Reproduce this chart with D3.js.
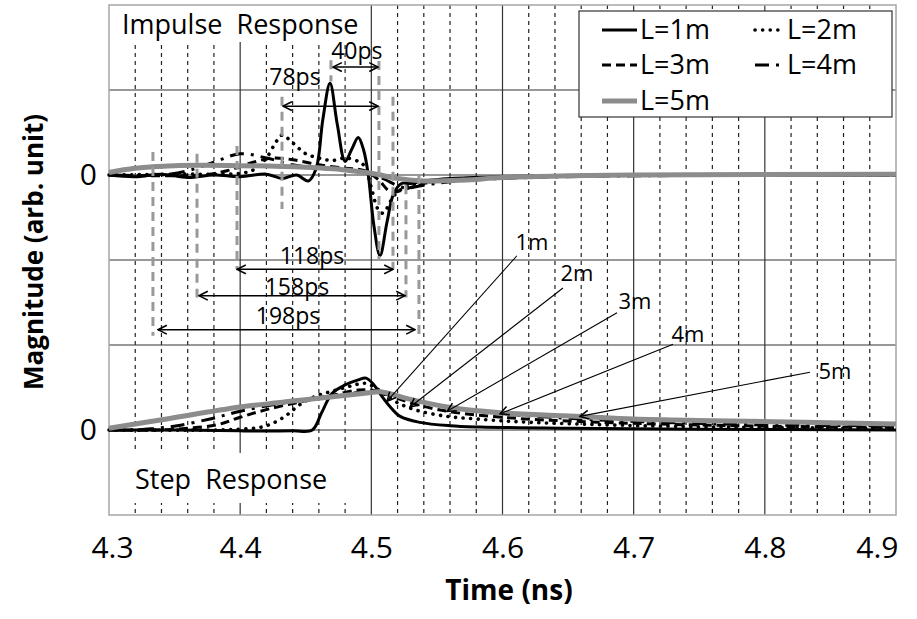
<!DOCTYPE html>
<html>
<head>
<meta charset="utf-8">
<script src="https://cdn.jsdelivr.net/npm/d3@7"></script>
<style>
body { margin: 0; background: #fff; }
text { font-family: "Open Sans", sans-serif; fill: #000; }
</style>
</head>
<body>
<div id="chart"></div>
<script>
// Impulse and step responses for cable lengths 1..5 m
// both traces share one y scale; the impulse trace sits on an offset baseline

const seriesNames = ["L=1m", "L=2m", "L=3m", "L=4m", "L=5m"];

// impulse response, [time ns, magnitude] (relative to impulse baseline)
const impulse1 = [[4.30, 0], [4.32, -0.02], [4.34, 0.01], [4.36, -0.03], [4.38, 0], [4.40, -0.02], [4.42, 0.01],
  [4.432, -0.04], [4.443, 0], [4.452, -0.07], [4.458, 0.08], [4.463, 0.65], [4.4685, 1.08], [4.474, 0.6],
  [4.480, 0.16], [4.485, 0.3], [4.490, 0.44], [4.494, 0.3], [4.4975, 0.02], [4.502, -0.6], [4.5066, -0.95],
  [4.512, -0.55], [4.517, -0.22], [4.523, -0.1], [4.53, -0.1], [4.54, -0.07], [4.56, -0.04], [4.6, -0.02],
  [4.7, 0], [4.8, 0], [4.9, 0]];
const impulse2 = [[4.30, 0], [4.35, 0.01], [4.40, 0.02], [4.41, 0.06], [4.42, 0.2], [4.427, 0.38], [4.432, 0.47],
  [4.44, 0.38], [4.45, 0.25], [4.46, 0.2], [4.47, 0.17], [4.48, 0.2], [4.49, 0.16], [4.495, 0.1], [4.50, -0.15],
  [4.505, -0.4], [4.509, -0.45], [4.515, -0.3], [4.52, -0.2], [4.53, -0.12], [4.55, -0.07], [4.6, -0.03],
  [4.7, 0], [4.9, 0]];
const impulse3 = [[4.30, 0], [4.37, 0], [4.39, 0.05], [4.41, 0.15], [4.425, 0.2], [4.44, 0.18], [4.46, 0.12],
  [4.48, 0.08], [4.495, 0.05], [4.505, -0.05], [4.515, -0.2], [4.525, -0.17], [4.54, -0.1], [4.56, -0.06],
  [4.6, -0.03], [4.7, 0], [4.9, 0]];
const impulse4 = [[4.30, 0], [4.34, 0], [4.36, 0.05], [4.38, 0.15], [4.40, 0.25], [4.42, 0.2], [4.44, 0.12],
  [4.46, 0.08], [4.48, 0.06], [4.50, 0.02], [4.51, -0.05], [4.525, -0.15], [4.54, -0.12], [4.56, -0.08],
  [4.6, -0.04], [4.7, -0.01], [4.9, 0]];
const impulse5 = [[4.30, 0.03], [4.32, 0.08], [4.35, 0.11], [4.40, 0.11], [4.45, 0.09], [4.48, 0.06], [4.50, 0.02],
  [4.52, -0.04], [4.54, -0.07], [4.57, -0.06], [4.60, -0.03], [4.65, -0.01], [4.70, 0], [4.9, 0.01]];

// step response, [time ns, magnitude]
const step1 = [[4.30, 0], [4.35, 0], [4.40, -0.01], [4.44, -0.01], [4.455, 0], [4.462, 0.2], [4.470, 0.43],
  [4.48, 0.53], [4.49, 0.59], [4.496, 0.61], [4.502, 0.53], [4.507, 0.42], [4.514, 0.28], [4.522, 0.16],
  [4.537, 0.09], [4.56, 0.05], [4.583, 0.035], [4.65, 0.02], [4.75, 0.01], [4.9, 0]];
const step2 = [[4.30, 0], [4.38, 0], [4.40, 0.01], [4.415, 0.03], [4.425, 0.08], [4.435, 0.17], [4.4456, 0.3],
  [4.458, 0.4], [4.471, 0.46], [4.485, 0.52], [4.495, 0.55], [4.503, 0.5], [4.51, 0.42], [4.52, 0.32],
  [4.535, 0.23], [4.558, 0.16], [4.58, 0.13], [4.608, 0.1], [4.659, 0.07], [4.72, 0.045], [4.8, 0.03], [4.9, 0.02]];
const step3 = [[4.30, 0], [4.34, 0], [4.36, 0.02], [4.382, 0.06], [4.40, 0.15], [4.42, 0.24], [4.4456, 0.33],
  [4.471, 0.41], [4.49, 0.47], [4.50, 0.47], [4.51, 0.43], [4.53, 0.32], [4.558, 0.22], [4.608, 0.14],
  [4.659, 0.1], [4.72, 0.07], [4.8, 0.045], [4.9, 0.03]];
const step4 = [[4.30, 0], [4.32, 0], [4.335, 0.02], [4.352, 0.05], [4.377, 0.13], [4.40, 0.22], [4.43, 0.31],
  [4.46, 0.38], [4.49, 0.44], [4.505, 0.44], [4.53, 0.36], [4.56, 0.27], [4.60, 0.19], [4.66, 0.13],
  [4.72, 0.09], [4.8, 0.06], [4.9, 0.05]];
const step5 = [[4.30, 0.02], [4.344, 0.13], [4.40, 0.27], [4.4456, 0.35], [4.50, 0.44], [4.507, 0.45],
  [4.53, 0.36], [4.558, 0.27], [4.60, 0.2], [4.659, 0.16], [4.70, 0.13], [4.76, 0.11], [4.83, 0.09], [4.9, 0.07]];

const impulseBase = 3;
const xTicks = [4.3, 4.4, 4.5, 4.6, 4.7, 4.8, 4.9];
const yTickValues = [0, 3];
const yTickLabels = ["0", "0"];

// delay arrows: label, start t, end t, level, label t, label level
const delays = [
  ["40ps", 4.4708, 4.5051, 4.27, 4.489, 4.46],
  ["78ps", 4.4327, 4.5051, 3.81, 4.4418, 4.15],
  ["118ps", 4.3976, 4.5165, 1.89, 4.4548, 2.05],
  ["158ps", 4.3686, 4.5257, 1.58, 4.4433, 1.68],
  ["198ps", 4.3374, 4.5333, 1.18, 4.4365, 1.34]
];
// gray dashed marker lines: t, top, bottom
const markers = [
  [4.4692, 4.35, 4.1], [4.4319, 3.92, 2.6], [4.5058, 4.34, 2.01],
  [4.3976, 3.34, 1.89], [4.5165, 3.92, 1.89],
  [4.3671, 3.25, 1.56], [4.5264, 2.88, 1.56],
  [4.3335, 3.27, 1.11], [4.5363, 3.0, 1.11]
];
// step labels: label, label t, label v, line from t, v, to t, v
const stepLabels = [
  ["1m", 4.6225, 2.21, 4.611, 2.05, 4.512, 0.34],
  ["2m", 4.6568, 1.84, 4.6461, 1.67, 4.5295, 0.27],
  ["3m", 4.701, 1.51, 4.6873, 1.38, 4.5577, 0.22],
  ["4m", 4.7414, 1.13, 4.730, 1.01, 4.5981, 0.19],
  ["5m", 4.8535, 0.69, 4.8344, 0.68, 4.659, 0.16]
];

const width = 917, height = 619;
const margin = { top: 5, right: 21, bottom: 104, left: 109 };

const styles = [
  { color: "#000", width: 3, dash: null, cap: "butt" },
  { color: "#000", width: 3.6, dash: "0.1,7.5", cap: "round" },
  { color: "#000", width: 3, dash: "9,5", cap: "butt" },
  { color: "#000", width: 3, dash: "14,7,3,7", cap: "butt" },
  { color: "#8c8c8c", width: 5, dash: null, cap: "butt" }
];

const svg = d3.select("#chart")
  .append("svg")
  .attr("width", width)
  .attr("height", height);

const x = d3.scaleLinear().domain([4.3, 4.9]).range([margin.left, width - margin.right]);
const y = d3.scaleLinear().domain([-1, 5]).range([height - margin.bottom, margin.top]);

// grid
const grid = svg.append("g");
const minor = d3.range(31).filter(i => i % 5 !== 0).map(i => 4.3 + i * 0.02);
grid.selectAll(".minor")
  .data(minor)
  .enter().append("line")
  .attr("x1", d => x(d)).attr("x2", d => x(d))
  .attr("y1", y(5)).attr("y2", y(-1))
  .attr("stroke", "#222").attr("stroke-width", 1.2)
  .attr("stroke-dasharray", "4,4");
grid.selectAll(".major")
  .data(xTicks.slice(1, -1))
  .enter().append("line")
  .attr("x1", d => x(d)).attr("x2", d => x(d))
  .attr("y1", y(5)).attr("y2", y(-1))
  .attr("stroke", "#333").attr("stroke-width", 1.2);
grid.selectAll(".hline")
  .data(d3.range(0, 5))
  .enter().append("line")
  .attr("x1", x(4.3)).attr("x2", x(4.9))
  .attr("y1", d => y(d)).attr("y2", d => y(d))
  .attr("stroke", "#333").attr("stroke-width", 1.2);

// text boxes that blank the grid
svg.append("rect")
  .attr("x", margin.left).attr("y", margin.top)
  .attr("width", 257).attr("height", 37)
  .attr("fill", "#fff");
svg.append("text")
  .attr("x", 122).attr("y", 34)
  .style("white-space", "pre")
  .style("font-size", "27px")
  .text("Impulse  Response");

svg.append("rect")
  .attr("x", margin.left).attr("y", 453)
  .attr("width", 253).attr("height", 50)
  .attr("fill", "#fff");
svg.append("text")
  .attr("x", 135).attr("y", 489)
  .style("white-space", "pre")
  .style("font-size", "27px")
  .text("Step  Response");

// border
svg.append("rect")
  .attr("x", x(4.3)).attr("y", y(5))
  .attr("width", x(4.9) - x(4.3)).attr("height", y(-1) - y(5))
  .attr("fill", "none").attr("stroke", "#a6a6a6").attr("stroke-width", 1.5);

// axes
const xAxis = svg.append("g")
  .attr("transform", `translate(0,${y(-1)})`)
  .call(d3.axisBottom(x).tickValues(xTicks).tickFormat(d3.format(".1f")).tickSize(0).tickPadding(22));
xAxis.select(".domain").remove();
xAxis.selectAll("text").style("font-size", "30px").style("font-family", "Open Sans");
// keep the edge labels inside the chart, as the original does
xAxis.selectAll("text")
  .filter(d => d === xTicks[0]).attr("x", 3);
xAxis.selectAll("text")
  .filter(d => d === xTicks[xTicks.length - 1]).attr("text-anchor", "end").attr("x", 2);

const yAxis = svg.append("g")
  .attr("transform", `translate(${margin.left},0)`)
  .call(d3.axisLeft(y).tickValues(yTickValues).tickFormat((d, i) => yTickLabels[i]).tickSize(0).tickPadding(12));
yAxis.select(".domain").remove();
yAxis.selectAll("text").style("font-size", "30px").style("font-family", "Open Sans");

svg.append("text")
  .attr("x", 509).attr("y", 600)
  .attr("text-anchor", "middle")
  .style("font-size", "28px").style("font-weight", "bold")
  .text("Time (ns)");

svg.append("text")
  .attr("transform", "translate(43,252) rotate(-90)")
  .attr("text-anchor", "middle")
  .style("font-size", "26px").style("font-weight", "bold")
  .text("Magnitude (arb. unit)");

// curves
const impulses = [impulse1, impulse2, impulse3, impulse4, impulse5];
const steps = [step1, step2, step3, step4, step5];

const lineImp = d3.line()
  .x(d => x(d[0])).y(d => y(d[1] + impulseBase))
  .curve(d3.curveCatmullRom.alpha(0.5));
const lineStep = d3.line()
  .x(d => x(d[0])).y(d => y(d[1]))
  .curve(d3.curveCatmullRom.alpha(0.5));

function drawSeries(data, gen) {
  svg.append("g").selectAll("path")
    .data(data)
    .enter().append("path")
    .attr("d", d => gen(d))
    .attr("fill", "none")
    .attr("stroke", (d, i) => styles[i].color)
    .attr("stroke-width", (d, i) => styles[i].width)
    .attr("stroke-dasharray", (d, i) => styles[i].dash)
    .attr("stroke-linecap", (d, i) => styles[i].cap)
    .attr("stroke-linejoin", "round");
}
drawSeries(impulses, lineImp);
drawSeries(steps, lineStep);

// arrowheads
const defs = svg.append("defs");
defs.append("marker")
  .attr("id", "arr")
  .attr("viewBox", "0 0 10 10")
  .attr("refX", 9).attr("refY", 5)
  .attr("markerUnits", "userSpaceOnUse")
  .attr("markerWidth", 11).attr("markerHeight", 11)
  .attr("orient", "auto-start-reverse")
  .append("path")
  .attr("d", "M1,1 L9,5 L1,9")
  .attr("fill", "none").attr("stroke", "#000").attr("stroke-width", 1.4);

// gray delay markers
svg.append("g").selectAll("line")
  .data(markers)
  .enter().append("line")
  .attr("x1", d => x(d[0])).attr("x2", d => x(d[0]))
  .attr("y1", d => y(d[1])).attr("y2", d => y(d[2]))
  .attr("stroke", "#999").attr("stroke-width", 3)
  .attr("stroke-dasharray", "9,6");

// delay arrows
const dl = svg.append("g").selectAll("g")
  .data(delays)
  .enter().append("g");
dl.append("line")
  .attr("x1", d => x(d[1])).attr("x2", d => x(d[2]))
  .attr("y1", d => y(d[3])).attr("y2", d => y(d[3]))
  .attr("stroke", "#000").attr("stroke-width", 1.5)
  .attr("marker-start", "url(#arr)").attr("marker-end", "url(#arr)");
dl.append("text")
  .attr("x", d => x(d[4])).attr("y", d => y(d[5]))
  .attr("text-anchor", "middle").attr("dy", "0.35em")
  .style("font-size", "23px")
  .text(d => d[0]);

// step leader lines
const sl = svg.append("g").selectAll("g")
  .data(stepLabels)
  .enter().append("g");
sl.append("line")
  .attr("x1", d => x(d[3])).attr("y1", d => y(d[4]))
  .attr("x2", d => x(d[5])).attr("y2", d => y(d[6]))
  .attr("stroke", "#000").attr("stroke-width", 1.1)
  .attr("marker-end", "url(#arr)");
sl.append("text")
  .attr("x", d => x(d[1])).attr("y", d => y(d[2]))
  .attr("text-anchor", "middle").attr("dy", "0.35em")
  .style("font-size", "22px")
  .text(d => d[0]);

// legend
const legend = svg.append("g");
legend.append("rect")
  .attr("x", 579).attr("y", 11)
  .attr("width", 313).attr("height", 106)
  .attr("fill", "#fff").attr("stroke", "#333").attr("stroke-width", 1.2);

const legendPos = [[602, 30], [755, 30], [602, 65], [755, 65], [602, 101]];
const items = legend.selectAll(".item")
  .data(seriesNames)
  .enter().append("g")
  .attr("transform", (d, i) => `translate(${legendPos[i][0]},${legendPos[i][1]})`);
items.append("line")
  .attr("x1", 0).attr("x2", (d, i) => i % 2 === 0 ? 35 : 29)
  .attr("y1", 0).attr("y2", 0)
  .attr("stroke", (d, i) => styles[i].color)
  .attr("stroke-width", (d, i) => styles[i].width)
  .attr("stroke-dasharray", (d, i) => styles[i].dash)
  .attr("stroke-linecap", (d, i) => styles[i].cap);
items.append("text")
  .attr("x", (d, i) => i % 2 === 0 ? 38 : 32)
  .attr("dy", "0.35em")
  .style("font-size", "27px")
  .text(d => d);
</script>
</body>
</html>
